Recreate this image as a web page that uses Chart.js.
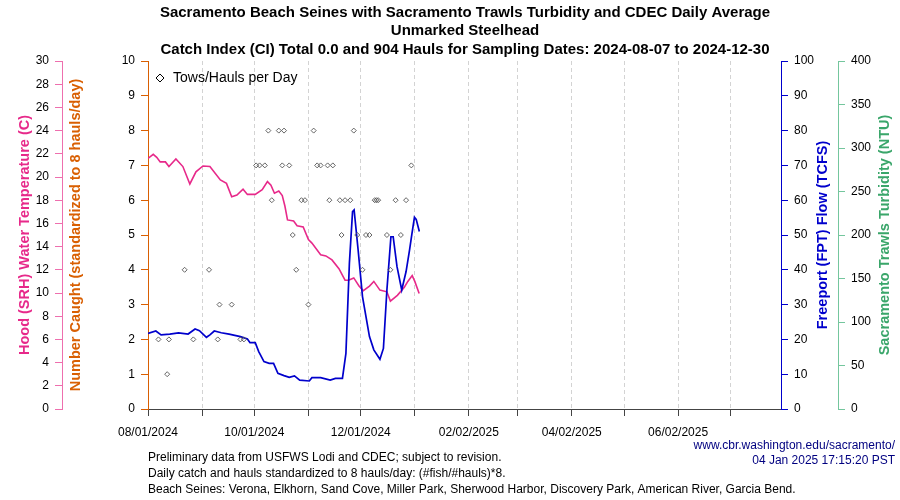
<!DOCTYPE html>
<html>
<head>
<meta charset="utf-8">
<script src="https://cdn.jsdelivr.net/npm/chart.js@4.4.1/dist/chart.umd.min.js"></script>
<style>
	html, body { margin: 0; padding: 0; background: #fff; }
	#wrap { width: 900px; height: 500px; position: relative; }
</style>
</head>
<body>
<div id="wrap"><canvas id="grafico" width="900" height="500"></canvas></div>
<script>
// days counted from 08/01/2024
var tickDays = [0, 31, 61, 92, 122, 153, 184, 212, 243, 273, 304, 334];
var tickLabels = ['08/01/2024', '', '10/01/2024', '', '12/01/2024', '', '02/02/2025', '', '04/02/2025', '', '06/02/2025', ''];

// Hood (SRH) water temperature, C
var tempDays = [0, 3, 5, 7, 10, 12, 16, 20, 24, 27.5, 31.5, 35.5, 41.5, 45, 48, 51, 54.5, 57, 61.5, 65.5, 68.5, 70.5, 72.5, 75, 77, 78.5, 80, 83.5, 85.5, 89, 92, 94, 99, 102, 105.5, 109.5, 113, 115, 118, 121, 123.5, 127, 129.5, 133, 137, 139, 143, 147, 149, 151.5, 153, 155.5];
var tempVals = [21.6, 21.95, 21.7, 21.3, 21.3, 20.9, 21.55, 20.9, 19.4, 20.45, 20.95, 20.9, 19.75, 19.45, 18.3, 18.45, 18.95, 18.5, 18.5, 18.9, 19.6, 19.3, 18.6, 18.8, 18.4, 17.5, 16.3, 16.2, 15.8, 15.7, 14.6, 14.3, 13.3, 13.2, 12.85, 12.1, 11.1, 11.1, 11.3, 10.6, 10.2, 10.6, 11.0, 10.25, 10.1, 9.3, 9.8, 10.5, 11.0, 11.5, 11.0, 9.95];

// Freeport (FPT) flow, TCFS
var flowDays = [0, 4.5, 7.5, 12.5, 17.5, 23, 27, 29.5, 33.5, 35.5, 38, 42, 46.5, 53, 57, 58.5, 61.5, 63.5, 66.5, 69.5, 72, 74.5, 78, 81, 84, 87, 92.5, 94, 99, 104.5, 107.5, 111.5, 113.5, 115.5, 117.3, 118.2, 120.5, 123, 127, 129.5, 133, 135, 137, 139.3, 140.6, 142.8, 145.5, 148, 150, 151.3, 152.8, 153.8, 155.6];
var flowVals = [21.7, 22.4, 21.3, 21.5, 21.9, 21.55, 23.0, 22.5, 20.6, 21.3, 22.4, 21.9, 21.5, 20.8, 20.1, 19.05, 19.05, 16.5, 13.6, 13.1, 13.1, 10.25, 9.6, 9.1, 9.5, 8.3, 8.05, 9.0, 9.0, 8.3, 8.8, 8.8, 16, 42, 56.7, 57.2, 45.7, 32.3, 20.8, 17, 14.3, 17.4, 34.2, 49.5, 49.5, 40.9, 34.2, 39.5, 45.7, 50.2, 55.1, 54.5, 51];

// tows/hauls per day
var haulDays = [69, 75, 78, 95, 118, 62, 64, 67, 77, 81, 97, 99, 103, 106, 151, 71, 88, 90, 104, 110, 113, 116, 130, 131, 132, 142, 148, 83, 111, 120, 125, 127, 137, 145, 21, 35, 85, 123, 139, 41, 48, 92, 6, 12, 26, 40, 53, 55, 11];
var haulVals = [8, 8, 8, 8, 8, 7, 7, 7, 7, 7, 7, 7, 7, 7, 7, 6, 6, 6, 6, 6, 6, 6, 6, 6, 6, 6, 6, 5, 5, 5, 5, 5, 5, 5, 4, 4, 4, 4, 4, 3, 3, 3, 2, 2, 2, 2, 2, 2, 1];

var titulo = ['Sacramento Beach Seines with Sacramento Trawls Turbidity and CDEC Daily Average', 'Unmarked Steelhead', 'Catch Index (CI) Total 0.0 and 904 Hauls for Sampling Dates: 2024-08-07 to 2024-12-30'];
var notas = ['Preliminary data from USFWS Lodi and CDEC; subject to revision.', 'Daily catch and hauls standardized to 8 hauls/day: (#fish/#hauls)*8.', 'Beach Seines: Verona, Elkhorn, Sand Cove, Miller Park, Sherwood Harbor, Discovery Park, American River, Garcia Bend.'];
var fuente = ['www.cbr.washington.edu/sacramento/', '04 Jan 2025 17:15:20 PST'];

var FUENTE = '"Liberation Sans", Arial, Helvetica, sans-serif';
Chart.defaults.font.family = FUENTE;
Chart.defaults.font.size = 12;
Chart.defaults.color = '#000';

function puntos(xs, ys) {
	let out = [];
	for (let i = 0; i < xs.length; i++) out.push({ x: xs[i], y: ys[i] });
	return out;
}

function ejeY(pos, peso, ancho, color, min, max, paso) {
	return {
		type: 'linear', position: pos, weight: peso, min: min, max: max,
		afterFit: function (s) { s.width = ancho; },
		ticks: { stepSize: paso, padding: 6, font: { size: 12 }, color: '#000' },
		grid: { drawOnChartArea: false, drawTicks: true, tickLength: 7, tickColor: color, lineWidth: 1 },
		border: { display: true, color: color, width: 1 }
	};
}

var textos = {
	id: 'textos',
	afterDraw: function (chart) {
		var ctx = chart.ctx, a = chart.chartArea;
		ctx.save();
		// titles
		ctx.fillStyle = '#000';
		ctx.textAlign = 'center';
		ctx.textBaseline = 'middle';
		ctx.font = 'bold 15px ' + FUENTE;
		var yt = [13, 31, 50];
		var wt = [640, 152, 638];
		for (let i = 0; i < titulo.length; i++) ctx.fillText(titulo[i], 465, yt[i], wt[i]);

		// axis titles, all read bottom to top
		var ejes = [
			{ t: 'Hood (SRH) Water Temperature (C)', x: 25, c: '#e7298a' },
			{ t: 'Number Caught (standardized to 8 hauls/day)', x: 76, c: '#d95f02' },
			{ t: 'Freeport (FPT) Flow (TCFS)', x: 823, c: '#0000cc' },
			{ t: 'Sacramento Trawls Turbidity (NTU)', x: 885, c: '#3aa66a' }
		];
		ctx.font = 'bold 14.5px ' + FUENTE;
		var yc = (a.top + a.bottom) / 2;
		ejes.forEach(function (e) {
			ctx.save();
			ctx.translate(e.x, yc);
			ctx.rotate(-Math.PI / 2);
			ctx.fillStyle = e.c;
			ctx.fillText(e.t, 0, 0);
			ctx.restore();
		});

		// legend in plot
		ctx.strokeStyle = '#000';
		ctx.lineWidth = 1;
		ctx.beginPath();
		ctx.moveTo(160, 74); ctx.lineTo(164, 78); ctx.lineTo(160, 82); ctx.lineTo(156, 78); ctx.closePath();
		ctx.stroke();
		ctx.textAlign = 'left';
		ctx.font = '14px ' + FUENTE;
		ctx.fillStyle = '#000';
		ctx.fillText('Tows/Hauls per Day', 173, 78);

		// footnotes
		ctx.font = '12px ' + FUENTE;
		var yn = [458, 474, 490];
		for (let i = 0; i < notas.length; i++) ctx.fillText(notas[i], 148, yn[i]);
		ctx.textAlign = 'right';
		ctx.fillStyle = '#000080';
		ctx.fillText(fuente[0], 895, 446);
		ctx.fillText(fuente[1], 895, 461);
		ctx.restore();
	}
};

var grafico = new Chart(document.getElementById('grafico'), {
	type: 'scatter',
	data: {
		datasets: [
			{
				label: 'Tows/Hauls per Day',
				data: puntos(haulDays, haulVals),
				yAxisID: 'yCount',
				pointStyle: 'rectRot',
				pointRadius: 2.5,
				borderWidth: 0.9,
				borderColor: '#555',
				backgroundColor: 'rgba(255,255,255,0)',
				order: 0
			},
			{
				label: 'Temperature',
				data: puntos(tempDays, tempVals),
				yAxisID: 'yTemp',
				showLine: true,
				pointRadius: 0,
				borderColor: '#e7298a',
				borderWidth: 1.6,
				order: 2
			},
			{
				label: 'Flow',
				data: puntos(flowDays, flowVals),
				yAxisID: 'yFlow',
				showLine: true,
				pointRadius: 0,
				borderColor: '#0000cc',
				borderWidth: 1.7,
				order: 1
			}
		]
	},
	options: {
		responsive: false,
		animation: false,
		layout: { padding: { top: 61, left: 0, right: 0, bottom: 0 } },
		plugins: { legend: { display: false }, tooltip: { enabled: false }, title: { display: false } },
		scales: {
			x: {
				type: 'linear', position: 'bottom', min: 0, max: 363,
				afterFit: function (s) { s.height = 91; },
				afterBuildTicks: function (s) { s.ticks = tickDays.map(function (d) { return { value: d }; }); },
				ticks: {
					autoSkip: false, maxRotation: 0, padding: 9, color: '#000', font: { size: 12 },
					callback: function (v, i) { return tickLabels[i]; }
				},
				grid: {
					drawOnChartArea: true, drawTicks: true, tickLength: 7,
					color: function (c) { return c.index === 0 ? 'rgba(0,0,0,0)' : '#d3d3d3'; },
					tickColor: '#444', tickBorderDash: [], lineWidth: 1
				},
				border: { display: true, color: '#444', width: 1, dash: [4, 3] }
			},
			yTemp: ejeY('left', 1, 62, '#ee6fae', 0, 30, 2),
			yCount: ejeY('left', 0, 86, '#d95f02', 0, 10, 1),
			yFlow: ejeY('right', 0, 57, '#0000cc', 0, 100, 10),
			yTurb: ejeY('right', 1, 62, '#74c69d', 0, 400, 50)
		}
	},
	plugins: [textos]
});
</script>
</body>
</html>
